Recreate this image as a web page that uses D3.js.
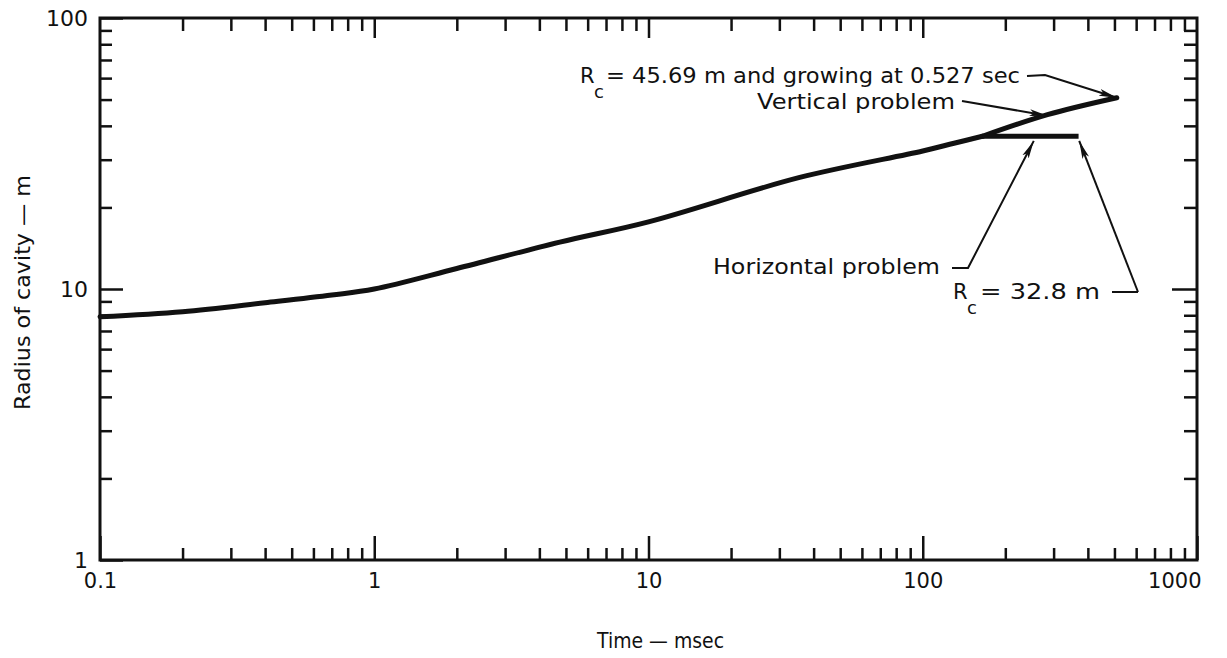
<!DOCTYPE html>
<html><head><meta charset="utf-8">
<script src="https://cdn.jsdelivr.net/npm/d3@7"></script>
<style>
html,body{margin:0;padding:0;background:#fff;}
svg text{font-family:"DejaVu Sans","Noto Sans",sans-serif;fill:#111;}
</style></head>
<body><svg id="c" width="1227" height="658"></svg>
<script>
// ---- data ----
const timeMs   = [0.1, 0.2, 0.4, 0.7, 1.0, 2.0, 4.75, 10, 35.6, 100, 130, 165];
const radiusM  = [7.9, 8.25, 8.9, 9.5, 10.0, 11.9, 14.9, 17.7, 25.8, 32.3, 34.5, 36.6];
const vertT    = [165, 285, 510];
const vertR    = [36.6, 44.0, 50.8];
const horizT   = [165, 370];
const horizR   = [36.6, 36.6];
const xMajor   = [0.1, 1, 10, 100, 1000];
const xMajorLabels = ["0.1", "1", "10", "100", "1000"];
const yMajor   = [1, 10, 100];
const yMajorLabels = ["1", "10", "100"];
const xMinor = [], yMinor = [];
[0.1, 1, 10, 100].forEach(b => { for (let m = 2; m <= 9; m++) xMinor.push(+(b*m).toPrecision(3)); });
[1, 10].forEach(b => { for (let m = 2; m <= 9; m++) yMinor.push(b*m); });
// annotation targets (time ms, radius m)
const annoTipT = [510, 285, 254, 372];
const annoTipR = [50.8, 43.6, 35.2, 35.2];

// ---- layout ----
const L = 100, R = 1197, T = 18, B = 560;
const svg = d3.select("#c");
const x = d3.scaleLog().domain([0.1, 1000]).range([L, R]);
const y = d3.scaleLog().domain([1, 100]).range([B, T]);

// frame
svg.append("rect").attr("x", L).attr("y", T).attr("width", R-L).attr("height", B-T)
  .attr("fill", "none").attr("stroke", "#111").attr("stroke-width", 3);

function styleAxis(g){ g.select(".domain").remove(); g.selectAll("line").attr("stroke","#111").attr("stroke-width",2.5); }

// bottom
svg.append("g").attr("transform",`translate(0,${B})`)
  .call(d3.axisBottom(x).tickValues(xMinor).tickSizeInner(-12).tickFormat(""))
  .call(styleAxis);
svg.append("g").attr("transform",`translate(0,${B})`)
  .call(d3.axisBottom(x).tickValues(xMajor).tickSizeInner(-24).tickPadding(13)
      .tickFormat((d,i)=>xMajorLabels[i]))
  .call(styleAxis)
  .call(g=>g.selectAll("text").attr("font-size",21).attr("fill","#111")
      .attr("text-anchor",(d,i)=> i===4 ? "end" : "middle")
      .attr("dx",(d,i)=> i===4 ? 4 : 0));
// top
svg.append("g").attr("transform",`translate(0,${T})`)
  .call(d3.axisTop(x).tickValues(xMinor).tickSizeInner(-13).tickFormat(""))
  .call(styleAxis);
svg.append("g").attr("transform",`translate(0,${T})`)
  .call(d3.axisTop(x).tickValues(xMajor.slice(1,4)).tickSizeInner(-20).tickFormat(""))
  .call(styleAxis);
// left
svg.append("g").attr("transform",`translate(${L},0)`)
  .call(d3.axisLeft(y).tickValues(yMinor).tickSizeInner(-12).tickFormat(""))
  .call(styleAxis);
svg.append("g").attr("transform",`translate(${L},0)`)
  .call(d3.axisLeft(y).tickValues(yMajor).tickSizeInner(-23).tickPadding(12)
      .tickFormat((d,i)=>yMajorLabels[i]))
  .call(styleAxis)
  .call(g=>g.selectAll("text").attr("font-size",22).attr("fill","#111"));
// right
svg.append("g").attr("transform",`translate(${R},0)`)
  .call(d3.axisRight(y).tickValues(yMinor).tickSizeInner(-13).tickFormat(""))
  .call(styleAxis);
svg.append("g").attr("transform",`translate(${R},0)`)
  .call(d3.axisRight(y).tickValues([10]).tickSizeInner(-25).tickFormat(""))
  .call(styleAxis);

// axis titles
svg.append("text").attr("x", 597).attr("y", 648)
  .attr("font-size",21).attr("textLength",127).attr("lengthAdjust","spacingAndGlyphs").text("Time — msec");
svg.append("text").attr("transform","translate(30,410) rotate(-90)")
  .attr("font-size",21).attr("textLength",235).attr("lengthAdjust","spacingAndGlyphs").text("Radius of cavity — m");

// curves
const line = d3.line().x(d=>x(d[0])).y(d=>y(d[1])).curve(d3.curveCatmullRom.alpha(0.5));
const main = timeMs.map((t,i)=>[t, radiusM[i]]);
const vert = vertT.map((t,i)=>[t, vertR[i]]);
const hor  = horizT.map((t,i)=>[t, horizR[i]]);
[main, vert].forEach(dat => svg.append("path").datum(dat).attr("d", line)
  .attr("fill","none").attr("stroke","#111").attr("stroke-width",5).attr("stroke-linecap","round"));
svg.append("path").datum(hor).attr("d", d3.line().x(d=>x(d[0])).y(d=>y(d[1])))
  .attr("fill","none").attr("stroke","#111").attr("stroke-width",5);

// arrow marker
svg.append("defs").append("marker").attr("id","arr").attr("viewBox","0 0 18 8")
  .attr("refX",18).attr("refY",4).attr("markerWidth",18).attr("markerHeight",8)
  .attr("markerUnits","userSpaceOnUse").attr("orient","auto")
  .append("path").attr("d","M0,0.5 L18,4 L0,7.5 L4,4 Z").attr("fill","#111");

const tips = annoTipT.map((t,i)=>[x(t), y(annoTipR[i])]);
const leaders = [
  [[1027,76],[1045,75], tips[0]],
  [[962,101], tips[1]],
  [[952,268],[968,268], tips[2]],
  [[1112,292],[1138,292]],
  [[1138,292], tips[3]]
];
leaders.forEach((pts,i) => svg.append("path").attr("d", d3.line()(pts))
  .attr("fill","none").attr("stroke","#111").attr("stroke-width",2)
  .attr("marker-end", i===3 ? null : "url(#arr)"));

// annotation texts
function rc(xp, yp, rest, restX, restLen){
  svg.append("text").attr("x",xp).attr("y",yp).attr("font-size",21).text("R");
  svg.append("text").attr("x",xp+14).attr("y",yp+15).attr("font-size",18).text("c");
  svg.append("text").attr("x",restX).attr("y",yp).attr("font-size",21)
    .attr("textLength",restLen).attr("lengthAdjust","spacingAndGlyphs").text(rest);
}
rc(580, 83, "= 45.69 m and growing at 0.527 sec", 606, 414);
svg.append("text").attr("x",757).attr("y",109).attr("font-size",21)
  .attr("textLength",198).attr("lengthAdjust","spacingAndGlyphs").text("Vertical problem");
svg.append("text").attr("x",713).attr("y",274).attr("font-size",21)
  .attr("textLength",227).attr("lengthAdjust","spacingAndGlyphs").text("Horizontal problem");
rc(953, 299, "= 32.8 m", 980, 120);
</script></body></html>
